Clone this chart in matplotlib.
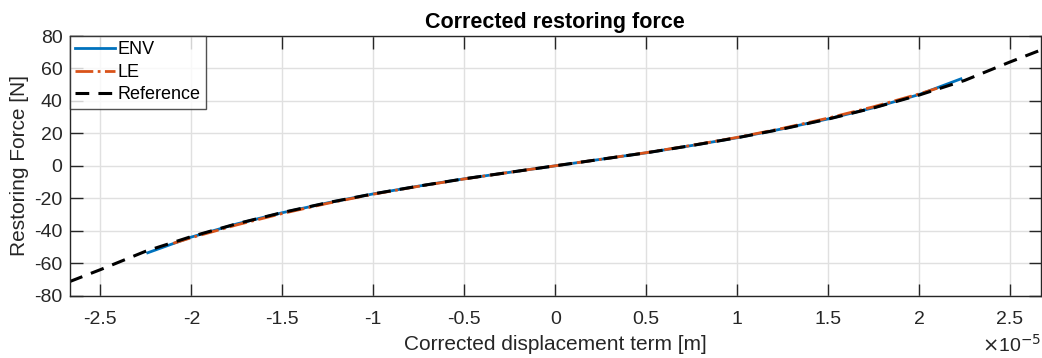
import matplotlib
matplotlib.use("Agg")
import matplotlib.pyplot as plt

plt.rcParams['font.family'] = ['Liberation Sans', 'DejaVu Sans']
plt.rcParams['axes.unicode_minus'] = False

# displacement values in units of 1e-5 m
x_ref = [-2.67, -2.5, -2.25, -2.0, -1.75, -1.5, -1.25, -1.0, -0.75, -0.5, -0.25, 0.0,
         0.25, 0.5, 0.75, 1.0, 1.25, 1.5, 1.75, 2.0, 2.25, 2.5, 2.67]
f_ref = [-71.4, -64.0, -52.6, -43.6, -35.7, -28.8, -22.7, -17.3, -12.5, -8.0, -4.0, 0.0,
         4.0, 8.0, 12.5, 17.3, 22.7, 28.8, 35.7, 43.6, 52.6, 64.0, 71.4]

x_env = [-2.24, -2.0, -1.75, -1.5, -1.25, -1.0, -0.75, -0.5, -0.25, 0.0,
         0.25, 0.5, 0.75, 1.0, 1.25, 1.5, 1.75, 2.0, 2.23]
f_env = [-53.6, -43.9, -35.8, -28.9, -22.8, -17.3, -12.5, -8.0, -4.0, 0.0,
         4.0, 8.0, 12.5, 17.3, 22.8, 28.9, 35.8, 43.9, 53.6]

x_le = [-2.1, -2.0, -1.75, -1.5, -1.25, -1.0, -0.75, -0.5, -0.25, 0.0,
        0.25, 0.5, 0.75, 1.0, 1.25, 1.5, 1.75, 2.0, 2.1]
f_le = [-47.8, -44.3, -36.4, -29.4, -23.1, -17.5, -12.6, -8.1, -4.0, 0.0,
        4.0, 8.1, 12.6, 17.5, 23.1, 29.4, 36.4, 44.3, 47.8]

xticks = [-2.5, -2, -1.5, -1, -0.5, 0, 0.5, 1, 1.5, 2, 2.5]
xticklabels = ['-2.5', '-2', '-1.5', '-1', '-0.5', '0', '0.5', '1', '1.5', '2', '2.5']
yticks = [-80, -60, -40, -20, 0, 20, 40, 60, 80]

txt = '#262626'
fig = plt.figure(figsize=(10.42, 3.58), dpi=100)
ax = fig.add_axes([0.0667, 0.1743, 0.9323, 0.7251])

ax.plot(x_env, f_env, color='#0072BD', lw=2.0, label='ENV')
ax.plot(x_le, f_le, color='#D95319', lw=2.0, ls='-.', label='LE')
ax.plot(x_ref, f_ref, color='black', lw=2.2, ls=(0, (4.5, 3)), label='Reference')

ax.set_xlim(-2.67, 2.67)
ax.set_ylim(-80, 80)
ax.set_xticks(xticks)
ax.set_xticklabels(xticklabels)
ax.set_yticks(yticks)
ax.grid(True, color='#e0e0e0', lw=1.0)
ax.set_axisbelow(True)
ax.tick_params(direction='in', length=9, width=1, colors=txt, labelsize=14,
               top=True, right=True)
ax.tick_params(axis='x', pad=11)
ax.tick_params(axis='y', pad=5)
for s in ax.spines.values():
    s.set_color(txt)
    s.set_linewidth(1.0)

ax.set_xlabel('Corrected displacement term [m]', fontsize=15, color=txt, labelpad=5)
ax.set_ylabel('Restoring Force [N]', fontsize=15, color=txt, labelpad=4)
ax.set_title('Corrected restoring force', fontsize=15.5, fontweight='bold', pad=6)
fig.text(0.999, 0.018, r'$\times$10$^{-5}$', fontsize=14, color=txt, ha='right')

leg = ax.legend(loc='upper left', fontsize=13, frameon=True, fancybox=False,
                borderaxespad=0, handlelength=2.2, handletextpad=0.15,
                borderpad=0.3, labelspacing=0.3, edgecolor=txt)
leg.get_frame().set_linewidth(1.0)
for t in leg.get_texts():
    t.set_color('black')

fig.savefig('out.png', dpi=100)
